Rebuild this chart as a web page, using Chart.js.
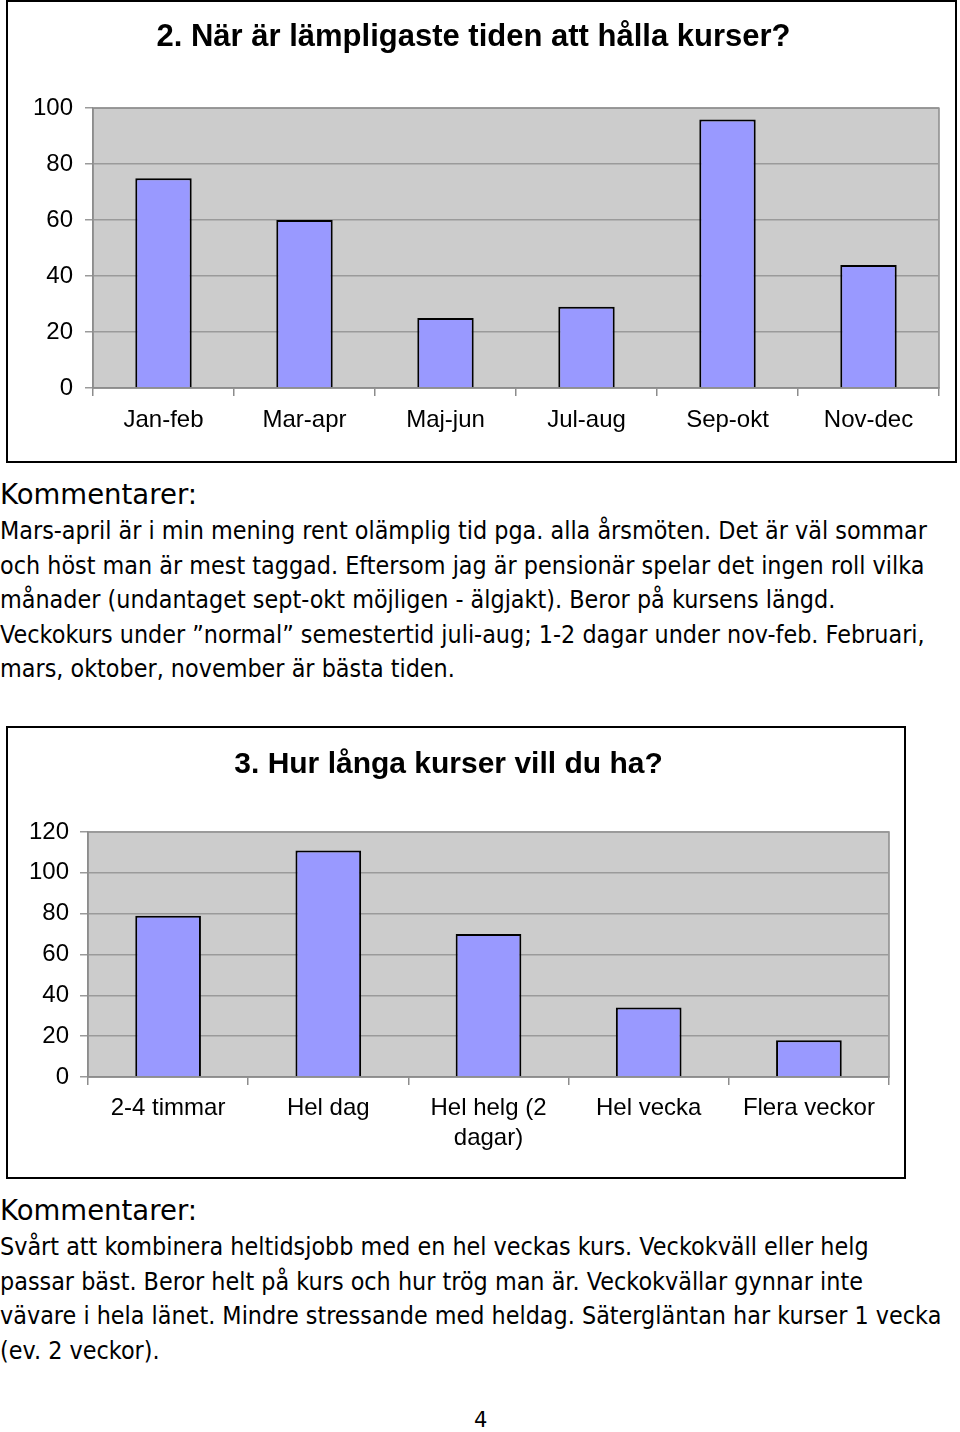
<!DOCTYPE html>
<html>
<head>
<meta charset="utf-8">
<script src="https://cdn.jsdelivr.net/npm/chart.js@4"></script>
<style>
body { margin: 0; background: #fff; width: 960px; height: 1432px; position: relative; overflow: hidden; }
.box { position: absolute; border: 2px solid #000; box-sizing: border-box; background: #fff; }
.wrap { position: relative; }
#box1 { left: 6px; top: 0px; width: 951px; height: 463px; }
#box1 .wrap { width: 947px; height: 459px; }
#box2 { left: 6px; top: 726px; width: 900px; height: 453px; }
#box2 .wrap { width: 896px; height: 449px; }
.note { position: absolute; left: 0; font-family: "DejaVu Sans", sans-serif; color: #000; white-space: nowrap; }
.note div { transform-origin: 0 50%; width: max-content; }
.note .head { font-size: 29px; height: 40px; line-height: 40px; }
.note .line { font-size: 24px; height: 34.5px; line-height: 34.5px; }
#note1 { top: 474px; }
#note2 { top: 1190px; }
#pagenum { position: absolute; left: 474px; top: 1408px; font-family: "DejaVu Sans", sans-serif; font-size: 21px; }
</style>
</head>
<body>

<div class="box" id="box1"><div class="wrap"><canvas id="chart1"></canvas></div></div>

<div class="note" id="note1">
  <div class="head">Kommentarer:</div>
  <div class="line">Mars-april är i min mening rent olämplig tid pga. alla årsmöten. Det är väl sommar</div>
  <div class="line">och höst man är mest taggad. Eftersom jag är pensionär spelar det ingen roll vilka</div>
  <div class="line">månader (undantaget sept-okt möjligen - älgjakt). Beror på kursens längd.</div>
  <div class="line">Veckokurs under ”normal” semestertid juli-aug; 1-2 dagar under nov-feb. Februari,</div>
  <div class="line">mars, oktober, november är bästa tiden.</div>
</div>

<div class="box" id="box2"><div class="wrap"><canvas id="chart2"></canvas></div></div>

<div class="note" id="note2">
  <div class="head">Kommentarer:</div>
  <div class="line">Svårt att kombinera heltidsjobb med en hel veckas kurs. Veckokväll eller helg</div>
  <div class="line">passar bäst. Beror helt på kurs och hur trög man är. Veckokvällar gynnar inte</div>
  <div class="line">vävare i hela länet. Mindre stressande med heldag. Sätergläntan har kurser 1 vecka</div>
  <div class="line">(ev. 2 veckor).</div>
</div>

<div id="pagenum">4</div>

<script>
// chart 1: när är lämpligaste tiden
const periods = ['Jan-feb', 'Mar-apr', 'Maj-jun', 'Jul-aug', 'Sep-okt', 'Nov-dec'];
const periodVotes = [75, 60, 25, 29, 96, 44];
const periodTicks = [0, 20, 40, 60, 80, 100];

// chart 2: hur långa kurser
const lengths = ['2-4 timmar', 'Hel dag', ['Hel helg (2', 'dagar)'], 'Hel vecka', 'Flera veckor'];
const lengthVotes = [79, 111, 70, 34, 18];
const lengthTicks = [0, 20, 40, 60, 80, 100, 120];

const FONT = '"Liberation Sans", Arial, sans-serif';

// grey plot area like the old Excel charts
const plotBg = {
    id: 'plotBg',
    beforeDraw(chart) {
        const a = chart.chartArea, c = chart.ctx;
        c.save();
        c.fillStyle = '#cccccc';
        c.fillRect(a.left, a.top, a.right - a.left, a.bottom - a.top);
        c.strokeStyle = '#8c8c8c';
        c.lineWidth = 1.5;
        c.strokeRect(a.left, a.top, a.right - a.left, a.bottom - a.top);
        c.restore();
    }
};

function makeChart(id, title, labels, values, ticks, s) {
    return new Chart(document.getElementById(id), {
        type: 'bar',
        data: {
            labels: labels,
            datasets: [{
                data: values,
                backgroundColor: '#9999ff',
                borderColor: '#000',
                borderWidth: 2,
                barPercentage: s.bar,
                categoryPercentage: 1
            }]
        },
        options: {
            responsive: true,
            maintainAspectRatio: false,
            animation: false,
            layout: { padding: { left: 0, right: s.right, top: 0, bottom: 0 } },
            plugins: {
                legend: { display: false },
                tooltip: { enabled: false },
                title: {
                    display: true,
                    text: title,
                    color: '#000',
                    font: { family: FONT, size: s.titleSize, weight: 'bold' },
                    padding: { top: s.titleTop, bottom: s.titleBottom }
                }
            },
            scales: {
                x: {
                    afterFit: sc => { sc.height = s.xHeight; },
                    grid: { drawOnChartArea: false, drawTicks: true, tickLength: 8, color: '#8c8c8c', lineWidth: 1.5 },
                    border: { color: '#8c8c8c', width: 1.5 },
                    ticks: { color: '#000', font: { family: FONT, size: 24, lineHeight: 1.25 }, padding: s.xPad, maxRotation: 0, autoSkip: false }
                },
                y: {
                    min: 0,
                    max: ticks[ticks.length - 1],
                    afterFit: sc => { sc.width = s.yWidth; },
                    afterBuildTicks: sc => { sc.ticks = ticks.map(v => ({ value: v })); },
                    grid: { color: '#9a9a9a', lineWidth: 1.5, tickLength: 8 },
                    border: { color: '#8c8c8c', width: 1.5 },
                    ticks: { color: '#000', font: { family: FONT, size: 24 }, padding: s.yPad }
                }
            }
        },
        plugins: [plotBg]
    });
}

makeChart('chart1', '2. När är lämpligaste tiden att hålla kurser?', periods, periodVotes, periodTicks,
    { bar: 0.4, right: 16, titleSize: 31, titleTop: 17, titleBottom: 52, xHeight: 73, xPad: 9, yWidth: 85, yPad: 12 });

makeChart('chart2', '3. Hur långa kurser vill du ha?', lengths, lengthVotes, lengthTicks,
    { bar: 0.41, right: 15, titleSize: 30, titleTop: 19, titleBottom: 49, xHeight: 100, xPad: 8, yWidth: 80, yPad: 11 });

// squeeze the comment text a bit so the lines break where they do in the scan
function fitNotes() {
    const first = document.querySelector('#note1 .line');
    const k = 927 / first.getBoundingClientRect().width;
    document.querySelectorAll('.note .line').forEach(el => el.style.transform = 'scaleX(' + k + ')');
    document.querySelectorAll('.note .head').forEach(el => {
        el.style.transform = 'scaleX(' + (197 / el.getBoundingClientRect().width) + ')';
    });
}
fitNotes();
</script>
</body>
</html>
